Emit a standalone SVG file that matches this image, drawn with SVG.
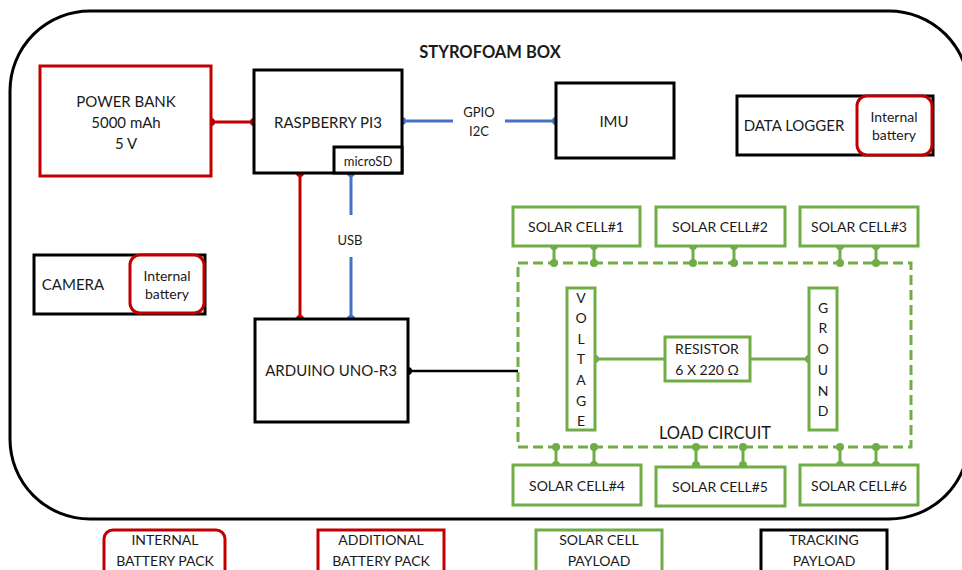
<svg xmlns="http://www.w3.org/2000/svg" width="962" height="570" viewBox="0 0 962 570">
<style>
text{font-family:Lato,"Open Sans","Liberation Sans",sans-serif;fill:#1a1a1a;text-anchor:middle}
.t{font-size:15px}
.s{font-size:13px}
.m{font-size:14px}
.b{font-weight:bold;font-size:16.5px}
.blk{fill:#fff;stroke:#000;stroke-width:3}
.red{fill:#fff;stroke:#C00000;stroke-width:3}
.grn{fill:#fff;stroke:#70AD47;stroke-width:3}
.lr{stroke:#C00000;stroke-width:3;fill:none}
.lb{stroke:#4472C4;stroke-width:3;fill:none}
.lk{stroke:#000;stroke-width:2.5;fill:none}
.lg{stroke:#70AD47;stroke-width:3;fill:none}
.dr{fill:#C00000}.db{fill:#4472C4}.dk{fill:#000}.dg{fill:#70AD47}
</style>
<rect id="box" x="10" y="11" width="959" height="508" rx="80" ry="80" fill="#fff" stroke="#000" stroke-width="3"/>
<text class="b" x="490" y="58">STYROFOAM BOX</text>

<g id="connectors">
<line class="lr" x1="211" y1="122" x2="254" y2="122"/>
<circle class="dr" cx="211" cy="122" r="4"/><circle class="dr" cx="254" cy="122" r="4"/>
<line class="lr" x1="300" y1="173" x2="300" y2="319"/>
<circle class="dr" cx="300" cy="173" r="4"/><circle class="dr" cx="300" cy="319" r="4"/>
<line class="lb" x1="351" y1="173" x2="351" y2="215"/>
<line class="lb" x1="351" y1="257" x2="351" y2="319"/>
<circle class="db" cx="351" cy="173" r="4"/><circle class="db" cx="351" cy="319" r="4"/>
<text class="s" x="350" y="245">USB</text>
<line class="lb" x1="402" y1="121" x2="453" y2="121"/>
<line class="lb" x1="505" y1="121" x2="556" y2="121"/>
<circle class="db" cx="402" cy="121" r="4"/><circle class="db" cx="556" cy="121" r="4"/>
<text class="s" x="479" y="117">GPIO</text>
<text class="s" x="479" y="136">I2C</text>
<line class="lk" x1="408" y1="371" x2="518" y2="371"/>
<circle class="dk" cx="408" cy="371" r="4"/>
<g class="lg">
<path d="M554 246V263M594 246V263M693 246V263M734 246V263M840 246V263M876 246V263"/>
<path d="M556 447V465M594 447V465M696 447V465M743 447V465M840 447V465M876 447V465"/>
<path d="M595 359H665M750 359H809"/>
</g>
<g class="dg">
<circle cx="554" cy="246" r="4"/><circle cx="594" cy="246" r="4"/><circle cx="693" cy="246" r="4"/><circle cx="734" cy="246" r="4"/><circle cx="840" cy="246" r="4"/><circle cx="876" cy="246" r="4"/>
<circle cx="554" cy="263" r="4"/><circle cx="594" cy="263" r="4"/><circle cx="693" cy="263" r="4"/><circle cx="734" cy="263" r="4"/><circle cx="840" cy="263" r="4"/><circle cx="876" cy="263" r="4"/>
<circle cx="556" cy="447" r="4"/><circle cx="594" cy="447" r="4"/><circle cx="696" cy="447" r="4"/><circle cx="743" cy="447" r="4"/><circle cx="840" cy="447" r="4"/><circle cx="876" cy="447" r="4"/>
<circle cx="556" cy="465" r="4"/><circle cx="594" cy="465" r="4"/><circle cx="696" cy="465" r="4"/><circle cx="743" cy="465" r="4"/><circle cx="840" cy="465" r="4"/><circle cx="876" cy="465" r="4"/>
<circle cx="595" cy="359" r="4"/><circle cx="809" cy="359" r="4"/>
</g>
</g>

<g id="powerbank">
<rect class="red" x="40" y="66" width="171" height="110"/>
<text class="t" x="126" y="107">POWER BANK</text>
<text class="t" x="126" y="128">5000 mAh</text>
<text class="t" x="126" y="149">5 V</text>
</g>
<g id="rpi">
<rect class="blk" x="254" y="70" width="148" height="103"/>
<text class="t" x="328" y="128">RASPBERRY PI3</text>
<rect class="blk" x="334" y="147" width="68" height="26"/>
<text class="s" x="368" y="166">microSD</text>
</g>
<g id="imu">
<rect class="blk" x="556" y="83" width="118" height="75"/>
<text class="t" x="614" y="127">IMU</text>
</g>
<g id="datalogger">
<rect class="blk" x="737" y="96" width="196" height="59"/>
<text class="t" x="794" y="131">DATA LOGGER</text>
<rect class="red" x="857" y="96" width="75" height="59" rx="10"/>
<text class="m" x="894" y="122">Internal</text>
<text class="m" x="894" y="140">battery</text>
</g>
<g id="camera">
<rect class="blk" x="34" y="255" width="171" height="59"/>
<text class="t" x="73" y="290">CAMERA</text>
<rect class="red" x="130" y="255" width="74" height="58" rx="10"/>
<text class="m" x="167" y="281">Internal</text>
<text class="m" x="167" y="299">battery</text>
</g>
<g id="arduino">
<rect class="blk" x="255" y="319" width="153" height="103"/>
<text class="t" x="331" y="376">ARDUINO UNO-R3</text>
</g>

<g id="loadcircuit">
<rect x="518" y="263" width="393" height="184" fill="none" stroke="#70AD47" stroke-width="3" stroke-dasharray="10 5"/>
<text x="715" y="439" style="font-size:16.5px">LOAD CIRCUIT</text>
</g>
<g id="voltage">
<rect class="grn" x="567" y="288" width="28" height="142"/>
<g class="m"><text x="581" y="303">V</text><text x="581" y="323">O</text><text x="581" y="344">L</text><text x="581" y="364">T</text><text x="581" y="385">A</text><text x="581" y="406">G</text><text x="581" y="426">E</text></g>
</g>
<g id="ground">
<rect class="grn" x="809" y="288" width="28" height="142"/>
<g class="m"><text x="823" y="313">G</text><text x="823" y="333">R</text><text x="823" y="354">O</text><text x="823" y="375">U</text><text x="823" y="396">N</text><text x="823" y="416">D</text></g>
</g>
<g id="resistor">
<rect class="grn" x="665" y="337" width="85" height="44"/>
<text class="m" x="707" y="354">RESISTOR</text>
<text class="m" x="707" y="375">6 X 220 Ω</text>
</g>

<g id="cell1"><rect class="grn" x="513" y="207" width="127" height="39"/><text class="m" x="576" y="232">SOLAR CELL#1</text></g>
<g id="cell2"><rect class="grn" x="656" y="207" width="129" height="39"/><text class="m" x="720" y="232">SOLAR CELL#2</text></g>
<g id="cell3"><rect class="grn" x="800" y="207" width="118" height="39"/><text class="m" x="859" y="232">SOLAR CELL#3</text></g>
<g id="cell4"><rect class="grn" x="513" y="465" width="128" height="40"/><text class="m" x="577" y="491">SOLAR CELL#4</text></g>
<g id="cell5"><rect class="grn" x="656" y="467" width="129" height="39"/><text class="m" x="720" y="492">SOLAR CELL#5</text></g>
<g id="cell6"><rect class="grn" x="800" y="465" width="118" height="40"/><text class="m" x="859" y="491">SOLAR CELL#6</text></g>

<g id="legend-internal"><rect class="red" x="104" y="530" width="121" height="50" rx="9"/><text class="m" x="165" y="545">INTERNAL</text><text class="m" x="165" y="566">BATTERY PACK</text></g>
<g id="legend-additional"><rect class="red" x="318" y="530" width="126" height="50"/><text class="m" x="381" y="545">ADDITIONAL</text><text class="m" x="381" y="566">BATTERY PACK</text></g>
<g id="legend-solar"><rect class="grn" x="536" y="530" width="126" height="50"/><text class="m" x="599" y="545">SOLAR CELL</text><text class="m" x="599" y="566">PAYLOAD</text></g>
<g id="legend-tracking"><rect class="blk" x="761" y="530" width="126" height="50"/><text class="m" x="824" y="545">TRACKING</text><text class="m" x="824" y="566">PAYLOAD</text></g>
</svg>
